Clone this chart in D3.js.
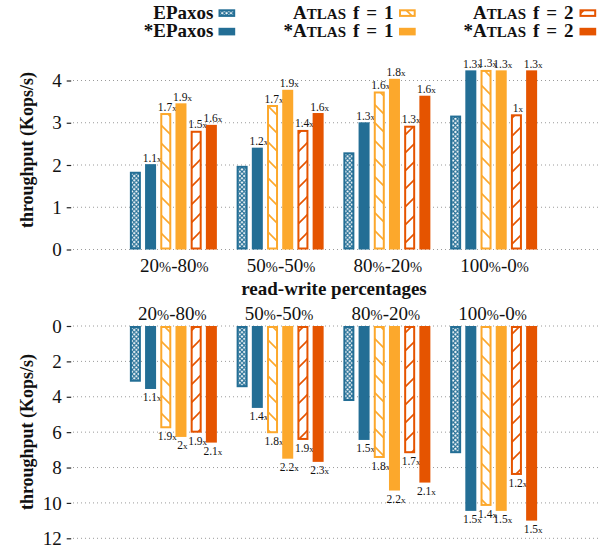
<!DOCTYPE html>
<html><head><meta charset="utf-8">
<script src="https://cdn.jsdelivr.net/npm/d3@7"></script>
<style>
html,body{margin:0;padding:0;background:#fff;}
svg text{font-family:"Liberation Serif","Times New Roman",serif;fill:#111;}
</style></head>
<body><svg id="c" width="607" height="548"></svg>
<script>
const categories = ["20%-80%", "50%-50%", "80%-20%", "100%-0%"];
const seriesNames = ["EPaxos", "*EPaxos", "Atlas f = 1", "*Atlas f = 1", "Atlas f = 2", "*Atlas f = 2"];
const topTicks = [0, 1, 2, 3, 4];
const bottomTicks = [0, 2, 4, 6, 8, 10, 12];

// top chart values (Kops/s)
const topEPaxos      = [1.84, 1.98, 2.30, 3.17];
const topEPaxosStar  = [2.02, 2.41, 3.01, 4.24];
const topAtlas1      = [3.23, 3.42, 3.74, 4.25];
const topAtlas1Star  = [3.46, 3.78, 4.04, 4.24];
const topAtlas2      = [2.81, 2.83, 2.93, 3.20];
const topAtlas2Star  = [2.95, 3.23, 3.64, 4.24];
// top chart speedup labels
const topLblEPaxosStar = ["1.1", "1.2", "1.3", "1.3"];
const topLblAtlas1     = ["1.7", "1.7", "1.6", "1.3"];
const topLblAtlas1Star = ["1.9", "1.9", "1.8", "1.3"];
const topLblAtlas2     = ["1.5", "1.4", "1.3", "1"];
const topLblAtlas2Star = ["1.6", "1.6", "1.6", "1.3"];

// bottom chart values (Kops/s)
const botEPaxos      = [3.15, 3.46, 4.24, 7.19];
const botEPaxosStar  = [3.56, 4.63, 6.44, 10.45];
const botAtlas1      = [5.78, 6.06, 7.46, 10.17];
const botAtlas1Star  = [6.27, 7.50, 9.30, 10.45];
const botAtlas2      = [6.03, 6.44, 7.19, 8.42];
const botAtlas2Star  = [6.59, 7.68, 8.85, 11.00];
// bottom chart speedup labels
const botLblEPaxosStar = ["1.1", "1.4", "1.5", "1.5"];
const botLblAtlas1     = ["1.9", "1.8", "1.8", "1.4"];
const botLblAtlas1Star = ["2", "2.2", "2.2", "1.5"];
const botLblAtlas2     = ["1.9", "1.9", "1.7", "1.2"];
const botLblAtlas2Star = ["2.1", "2.3", "2.1", "1.5"];

const BLUE = "#236e95", YEL = "#fca82c", RED = "#e55400";
const styles = [
  {color: BLUE, pat: "pX"}, {color: BLUE, pat: null},
  {color: YEL, pat: "pB"}, {color: YEL, pat: null},
  {color: RED, pat: "pF"}, {color: RED, pat: null}
];

const svg = d3.select("#c");
const defs = svg.append("defs");
// crosshatch
const px = defs.append("pattern").attr("id", "pX").attr("patternUnits", "userSpaceOnUse")
  .attr("width", 4.4).attr("height", 4.4);
px.append("rect").attr("width", 4.4).attr("height", 4.4).attr("fill", "#fff");
px.append("path").attr("d", "M0,0L4.4,4.4M0,4.4L4.4,0").attr("stroke", BLUE).attr("stroke-width", 1.1);
// backslash hatch
const pb = defs.append("pattern").attr("id", "pB").attr("patternUnits", "userSpaceOnUse")
  .attr("width", 18).attr("height", 18);
pb.append("rect").attr("width", 18).attr("height", 18).attr("fill", "#fff");
pb.append("path").attr("d", "M0,0L18,18M-2,16L2,20M16,-2L20,2").attr("stroke", YEL).attr("stroke-width", 1.6);
// forward hatch
const pf = defs.append("pattern").attr("id", "pF").attr("patternUnits", "userSpaceOnUse")
  .attr("width", 18).attr("height", 18);
pf.append("rect").attr("width", 18).attr("height", 18).attr("fill", "#fff");
pf.append("path").attr("d", "M0,18L18,0M-2,2L2,-2M16,20L20,16").attr("stroke", RED).attr("stroke-width", 1.6);

const x0 = d3.scaleBand().domain(categories).range([120, 547]);
const x1 = d3.scaleBand().domain(seriesNames).range([-43.5, 43.5]).paddingInner(0.276).paddingOuter(0);

const yTop = d3.scaleLinear().domain([0, 4]).range([249.5, 80.5]);
const yBot = d3.scaleLinear().domain([0, 12]).range([326, 538.3]);

function grid(scale, ticks) {
  const g = svg.append("g");
  g.selectAll("line.grid").data(ticks).join("line")
    .attr("x1", 73).attr("x2", 600)
    .attr("y1", d => scale(d)).attr("y2", d => scale(d))
    .attr("stroke", "#9a9a9a").attr("stroke-width", 1).attr("stroke-dasharray", "1,3");
  const ax = d3.axisLeft(scale).tickValues(ticks).tickSize(4.5).tickPadding(5).tickFormat(d3.format("d"));
  const a = svg.append("g").attr("transform", "translate(71.2,0)").call(ax);
  a.select(".domain").remove();
  a.selectAll(".tick line").attr("stroke", "#222").attr("stroke-width", 1.2);
  a.selectAll(".tick text").attr("font-size", 19).attr("fill", "#222");
}
grid(yTop, topTicks);
grid(yBot, bottomTicks);

const topSets = [topEPaxos, topEPaxosStar, topAtlas1, topAtlas1Star, topAtlas2, topAtlas2Star];
const topLbls = [null, topLblEPaxosStar, topLblAtlas1, topLblAtlas1Star, topLblAtlas2, topLblAtlas2Star];
const botSets = [botEPaxos, botEPaxosStar, botAtlas1, botAtlas1Star, botAtlas2, botAtlas2Star];
const botLbls = [null, botLblEPaxosStar, botLblAtlas1, botLblAtlas1Star, botLblAtlas2, botLblAtlas2Star];

function bars(sets, lbls, y, down) {
  const rows = [];
  categories.forEach((c, ci) => seriesNames.forEach((s, si) => {
    rows.push({c, s, si, v: sets[si][ci], lbl: lbls[si] ? lbls[si][ci] : null});
  }));
  const g = svg.append("g");
  const bx = d => x0(d.c) + x0.bandwidth() / 2 + x1(d.s);
  const w = x1.bandwidth();
  rows.forEach(d => {
    const st = styles[d.si];
    const yA = y(0), yB = y(d.v);
    const top = Math.min(yA, yB), h = Math.abs(yB - yA);
    if (st.pat) {
      g.append("rect").attr("x", bx(d) + 1).attr("y", top + 1).attr("width", w - 2).attr("height", h - 2)
        .attr("fill", `url(#${st.pat})`).attr("stroke", st.color).attr("stroke-width", 2);
    } else {
      g.append("rect").attr("x", bx(d)).attr("y", top).attr("width", w).attr("height", h).attr("fill", st.color);
    }
    if (d.lbl) {
      const t = g.append("text").attr("x", bx(d) + w / 2 + 1.5)
        .attr("y", down ? yB + 12 : yB - 2.5)
        .attr("text-anchor", "middle").attr("font-size", 11.5).attr("fill", "#222");
      t.append("tspan").text(d.lbl);
      t.append("tspan").attr("font-size", 9).text("x");
    }
  });
}
bars(topSets, topLbls, yTop, false);
bars(botSets, botLbls, yBot, true);

// category labels (percent sign drawn a bit smaller, as in the reference)
function catLabels(yPos, dx) {
  svg.append("g").selectAll("text").data(categories).join("text")
    .attr("x", d => x0(d) + x0.bandwidth() / 2 + dx).attr("y", yPos)
    .attr("text-anchor", "middle").attr("font-size", 19)
    .each(function(d) {
      const t = d3.select(this);
      d.split(/(%)/).filter(p => p.length).forEach(p => {
        const sp = t.append("tspan").text(p);
        if (p === "%") sp.attr("font-size", 14.5);
      });
    });
}
catLabels(271.5, 1);
catLabels(320, -1);

// axis titles
svg.append("text").attr("x", 334).attr("y", 295).attr("text-anchor", "middle")
  .attr("font-size", 19).attr("font-weight", "bold").text("read-write percentages");
svg.append("text").attr("transform", "translate(33,150) rotate(-90)").attr("text-anchor", "middle")
  .attr("font-size", 18).attr("font-weight", "bold").text("throughput (Kops/s)");
svg.append("text").attr("transform", "translate(33,432) rotate(-90)").attr("text-anchor", "middle")
  .attr("font-size", 18).attr("font-weight", "bold").text("throughput (Kops/s)");

// legend
const legendCols = [{tx: 213.5, sx: 218.5}, {tx: 393.5, sx: 399}, {tx: 573.5, sx: 579.5}];
const legendRows = [18.5, 37];
seriesNames.forEach((s, i) => {
  const col = legendCols[Math.floor(i / 2)], row = legendRows[i % 2];
  const st = styles[i];
  const t = svg.append("text").attr("x", col.tx).attr("y", row).attr("text-anchor", "end")
    .attr("font-size", 19).attr("font-weight", "bold");
  if (s.includes("Atlas")) {
    const star = s.startsWith("*") ? "*" : "";
    const rest = s.slice(s.indexOf("Atlas") + 5);
    t.append("tspan").text(star + "A");
    t.append("tspan").attr("font-size", 15).text("TLAS");
    t.append("tspan").style("word-spacing", "2.2px").text(rest);
  } else {
    t.text(s);
  }
  if (st.pat) {
    svg.append("rect").attr("x", col.sx + 1).attr("y", row - 8.2).attr("width", 14.7).attr("height", 5.6)
      .attr("fill", `url(#${st.pat})`).attr("stroke", st.color).attr("stroke-width", 2);
  } else {
    svg.append("rect").attr("x", col.sx).attr("y", row - 9.2).attr("width", 16.7).attr("height", 7.6).attr("fill", st.color);
  }
});
</script></body></html>
